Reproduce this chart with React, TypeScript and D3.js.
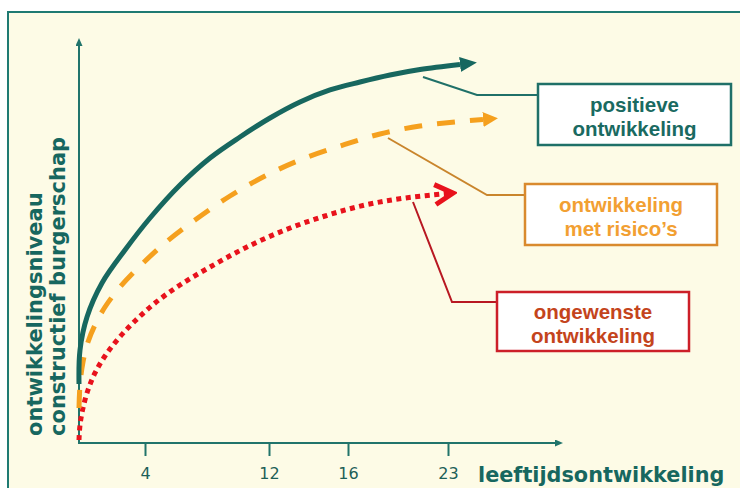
import React from "react";
import * as d3 from "d3";

// age (x) and development level (y, 0-100)
const tickAges = [4, 12, 16, 23];

const positiveAge = [0, 0.061, 0.485, 1.394, 2.788, 4.323, 6.258, 8.194, 10.129, 12.051, 13.57, 15.089, 16.84, 18.94, 21.04, 23.84];
const positiveLevel = [14.6, 23.02, 31.19, 39.6, 47.77, 55.69, 63.86, 70.54, 75.74, 80.45, 84.41, 87.38, 89.36, 91.09, 92.45, 93.69];

const riskAge = [0, 0.061, 0.242, 0.545, 0.97, 1.576, 2.485, 3.697, 5.29, 7.226, 9.484, 11.742, 13.57, 15.595, 18.24, 21.04, 23.49, 25.45];
const riskLevel = [8.66, 14.36, 20.05, 25.0, 29.21, 33.66, 38.61, 43.81, 49.5, 55.2, 61.14, 66.09, 70.05, 73.51, 76.49, 78.47, 79.46, 80.07];

const unwantedAge = [0, 0.061, 0.242, 0.545, 0.97, 1.576, 2.364, 3.394, 4.645, 6.258, 8.194, 10.452, 12.81, 14.835, 17.19, 19.99, 23.35];
const unwantedLevel = [0.74, 4.46, 8.66, 13.12, 17.33, 21.53, 25.74, 30.2, 34.65, 39.11, 43.56, 48.27, 52.72, 56.19, 58.91, 60.64, 61.88];

const labels = {
  positive: ["positieve", "ontwikkeling"],
  risk: ["ontwikkeling", "met risico\u2019s"],
  unwanted: ["ongewenste", "ontwikkeling"],
};

const yLabel = ["ontwikkelingsniveau", "constructief burgerschap"];
const xLabel = "leeftijdsontwikkeling";

const W = 740;
const H = 488;

export default function App() {
  const ref = React.useRef<SVGSVGElement>(null);

  React.useEffect(() => {
    const svg = d3.select(ref.current);
    svg.selectAll("*").remove();

    const teal = "#17675f";
    const axisTeal = "#21746b";
    const orange = "#f5a01e";
    const red = "#e8121c";

    // age axis is not linear in the picture, so a piecewise scale
    const x = d3.scaleLinear().domain([0, 4, 12, 16, 23]).range([79, 145, 269, 348, 448]);
    const y = d3.scaleLinear().domain([0, 100]).range([443, 39]);

    const defs = svg.append("defs");
    const tri = (id: string, color: string, len: number, wid: number) => {
      defs
        .append("marker")
        .attr("id", id)
        .attr("markerUnits", "userSpaceOnUse")
        .attr("viewBox", `0 ${-wid / 2} ${len} ${wid}`)
        .attr("refX", 0)
        .attr("refY", 0)
        .attr("markerWidth", len)
        .attr("markerHeight", wid)
        .attr("orient", "auto")
        .append("path")
        .attr("d", `M0,${-wid / 2}L${len},0L0,${wid / 2}Z`)
        .attr("fill", color);
    };
    tri("arrTeal", teal, 17, 15);
    tri("arrOrange", orange, 15, 15);
    tri("arrAxis", axisTeal, 8, 7);

    defs
      .append("marker")
      .attr("id", "arrRed")
      .attr("markerUnits", "userSpaceOnUse")
      .attr("viewBox", "-24 -14 28 28")
      .attr("refX", 0)
      .attr("refY", 0)
      .attr("markerWidth", 28)
      .attr("markerHeight", 28)
      .attr("orient", "auto")
      .append("path")
      .attr("d", "M-18,-10L0,0L-18,10")
      .attr("fill", "none")
      .attr("stroke", red)
      .attr("stroke-width", 5);

    // background and frame
    svg.append("rect").attr("width", W).attr("height", H).attr("fill", "#ffffff");
    svg
      .append("rect")
      .attr("x", 8)
      .attr("y", 12)
      .attr("width", W + 10)
      .attr("height", H + 10)
      .attr("fill", "#fdfbe6")
      .attr("stroke", "#1f7a72")
      .attr("stroke-width", 2);

    // axes
    svg
      .append("line")
      .attr("x1", x(0))
      .attr("y1", y(0))
      .attr("x2", x(0))
      .attr("y2", y(100) + 7)
      .attr("stroke", axisTeal)
      .attr("stroke-width", 2)
      .attr("marker-end", "url(#arrAxis)");
    svg
      .append("line")
      .attr("x1", x(0) - 1)
      .attr("y1", y(0))
      .attr("x2", 555)
      .attr("y2", y(0))
      .attr("stroke", axisTeal)
      .attr("stroke-width", 2)
      .attr("marker-end", "url(#arrAxis)");

    const xAxis = svg
      .append("g")
      .attr("transform", `translate(0,${y(0)})`)
      .call(d3.axisBottom(x).tickValues(tickAges).tickSize(13).tickSizeOuter(0).tickPadding(11.5));
    xAxis.select(".domain").remove();
    xAxis.selectAll(".tick line").attr("stroke", axisTeal).attr("stroke-width", 2);
    xAxis
      .selectAll(".tick text")
      .attr("fill", "#1d5f58")
      .style("font-family", "'DejaVu Sans'")
      .style("font-size", "16px");

    svg
      .append("text")
      .attr("x", 478)
      .attr("y", 482)
      .attr("fill", teal)
      .attr("font-family", "DejaVu Sans")
      .attr("font-weight", "bold")
      .attr("font-size", 20.8)
      .text(xLabel);

    yLabel.forEach((t, i) => {
      svg
        .append("text")
        .attr("transform", `translate(${i === 0 ? 42 : 65},436) rotate(-90)`)
        .attr("fill", teal)
        .attr("font-family", "DejaVu Sans")
        .attr("font-weight", "bold")
        .attr("font-size", 21)
        .text(t);
    });

    // development curves
    const line = d3
      .line<[number, number]>()
      .x((d) => x(d[0]))
      .y((d) => y(d[1]))
      .curve(d3.curveCatmullRom.alpha(0.5));

    const pts = (a: number[], b: number[]) => a.map((v, i) => [v, b[i]] as [number, number]);

    svg
      .append("path")
      .attr("d", line(pts(unwantedAge, unwantedLevel)))
      .attr("fill", "none")
      .attr("stroke", red)
      .attr("stroke-width", 5)
      .attr("stroke-dasharray", "5 4.5")
      .attr("marker-end", "url(#arrRed)");

    svg
      .append("path")
      .attr("d", line(pts(riskAge, riskLevel)))
      .attr("fill", "none")
      .attr("stroke", orange)
      .attr("stroke-width", 5)
      .attr("stroke-dasharray", "18 15")
      .attr("marker-end", "url(#arrOrange)");

    svg
      .append("path")
      .attr("d", line(pts(positiveAge, positiveLevel)))
      .attr("fill", "none")
      .attr("stroke", teal)
      .attr("stroke-width", 5)
      .attr("marker-end", "url(#arrTeal)");

    // callouts
    const callouts = [
      { lines: labels.positive, leader: [[423, 77], [477, 95], [538, 95]], box: [538, 84, 193, 61], stroke: "#1f7068", textColor: "#1a6a61", lead: "#1f7068" },
      { lines: labels.risk, leader: [[388, 138], [487, 195], [525, 195]], box: [525, 184, 192, 61], stroke: "#d98a2e", textColor: "#f2a032", lead: "#c9852c" },
      { lines: labels.unwanted, leader: [[413, 202], [452, 302], [497, 302]], box: [497, 292, 192, 59], stroke: "#cc1f28", textColor: "#c4441c", lead: "#b81822" },
    ];

    callouts.forEach((c) => {
      svg
        .append("path")
        .attr("d", d3.line()(c.leader as [number, number][]))
        .attr("fill", "none")
        .attr("stroke", c.lead)
        .attr("stroke-width", 2);
      const [bx, by, bw, bh] = c.box;
      svg
        .append("rect")
        .attr("x", bx)
        .attr("y", by)
        .attr("width", bw)
        .attr("height", bh)
        .attr("fill", "#ffffff")
        .attr("stroke", c.stroke)
        .attr("stroke-width", 2.5);
      c.lines.forEach((t, i) => {
        svg
          .append("text")
          .attr("x", bx + bw / 2)
          .attr("y", by + bh / 2 - 3 + i * 24)
          .attr("text-anchor", "middle")
          .attr("fill", c.textColor)
          .attr("font-family", "Liberation Sans")
          .attr("font-weight", "bold")
          .attr("font-size", 20.5)
          .text(t);
      });
    });
  }, []);

  return (
    <div style={{ position: "absolute", left: 0, top: 0 }}>
      <svg ref={ref} width={W} height={H} style={{ display: "block" }} />
    </div>
  );
}
